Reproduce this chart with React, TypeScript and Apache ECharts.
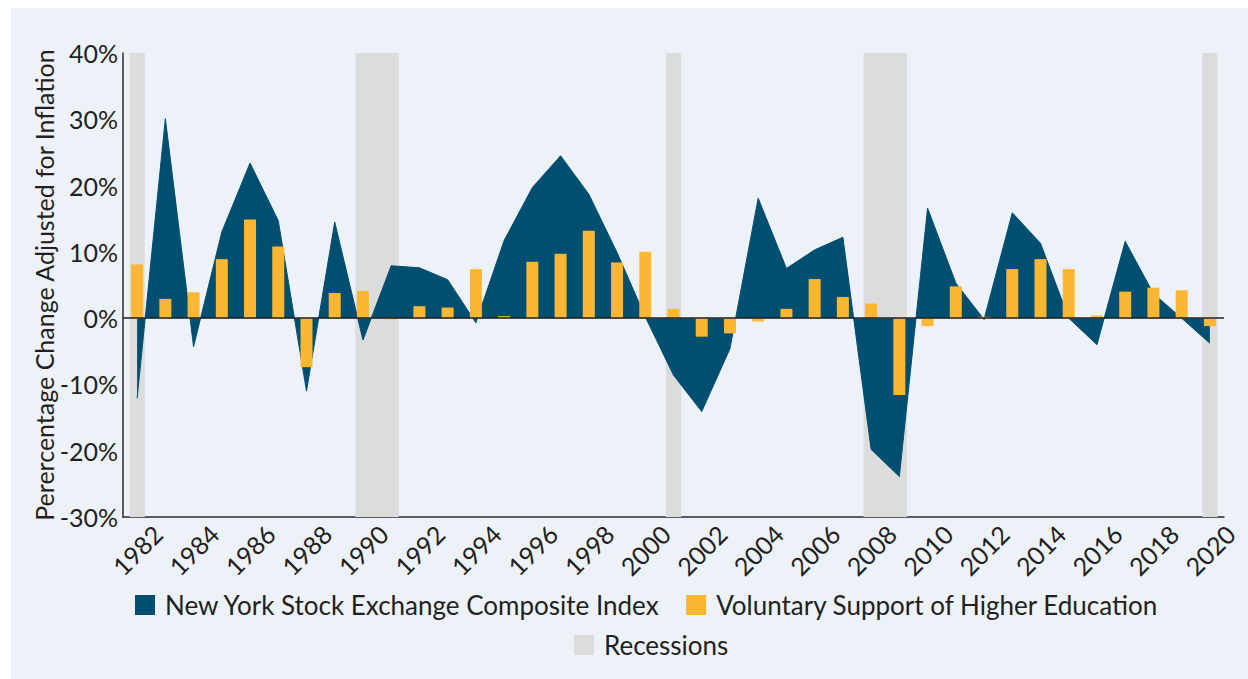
import React, { useEffect, useRef } from "react";
import * as echarts from "echarts";

const years: string[] = [
  "1982","1983","1984","1985","1986","1987","1988","1989","1990","1991",
  "1992","1993","1994","1995","1996","1997","1998","1999","2000","2001",
  "2002","2003","2004","2005","2006","2007","2008","2009","2010","2011",
  "2012","2013","2014","2015","2016","2017","2018","2019","2020",
];

const nyseComposite: number[] = [
  -12.1, 30.1, -4.3, 13.0, 23.4, 14.7, -11.0, 14.5, -3.3, 7.9,
  7.6, 5.8, -0.7, 11.7, 19.7, 24.5, 18.7, 9.9, 0.2, -8.6,
  -14.1, -4.6, 18.1, 7.5, 10.3, 12.2, -19.8, -23.9, 16.6, 5.3,
  -0.2, 15.9, 11.3, 0.0, -4.0, 11.6, 3.7, 0.0, -3.8,
];

const voluntarySupport: number[] = [
  8.1, 2.9, 3.9, 8.9, 14.9, 10.8, -7.4, 3.8, 4.1, -0.2,
  1.8, 1.6, 7.4, 0.3, 8.5, 9.7, 13.2, 8.4, 10.0, 1.4,
  -2.8, -2.3, -0.5, 1.4, 5.9, 3.2, 2.2, -11.6, -1.2, 4.8,
  0.2, 7.4, 8.9, 7.4, 0.4, 4.0, 4.6, 4.2, -1.2,
];

const recessionStart: string[] = ["1982", "1990", "2001", "2008", "2020"];
const recessionEnd: string[] = ["1982", "1991", "2001", "2009", "2020"];

const Y_MIN = -30;
const Y_MAX = 40;

const NAVY = "#004f70";
const GOLD = "#fbb632";
const GREY = "#dcdcdd";
const TEXT = "#231f20";
const FONT = "Lato";

export default function App() {
  const ref = useRef<HTMLDivElement>(null);

  useEffect(() => {
    if (!ref.current) return;
    const chart = echarts.init(ref.current, undefined, { renderer: "svg" });

    const recessionData = recessionStart.map((s, i) => [
      years.indexOf(s),
      years.indexOf(recessionEnd[i]),
    ]);

    const legendText = {
      fontFamily: FONT,
      fontSize: 26,
      color: TEXT,
      padding: [0, 0, 0, 5],
    };

    chart.setOption({
      animation: false,
      backgroundColor: "transparent",
      textStyle: { fontFamily: FONT, color: TEXT },
      grid: { left: 112, right: 24, top: 45, bottom: 162, containLabel: false },
      legend: [
        {
          left: 124,
          top: 584,
          padding: 0,
          itemWidth: 20,
          itemHeight: 20,
          itemGap: 26,
          icon: "rect",
          textStyle: legendText,
          data: [
            { name: "New York Stock Exchange Composite Index", icon: "rect", itemStyle: { color: NAVY } },
            { name: "Voluntary Support of Higher Education", icon: "rect", itemStyle: { color: GOLD } },
          ],
        },
        {
          left: 563,
          top: 624,
          padding: 0,
          itemWidth: 20,
          itemHeight: 20,
          icon: "rect",
          textStyle: legendText,
          data: [{ name: "Recessions", icon: "rect", itemStyle: { color: GREY } }],
        },
      ],
      xAxis: {
        type: "category",
        data: years,
        boundaryGap: true,
        axisLine: { show: true, onZero: false, lineStyle: { color: "#2b2b2b", width: 1.5 } },
        axisTick: { show: false },
        axisLabel: {
          interval: 1,
          rotate: 45,
          align: "center",
          verticalAlign: "middle",
          margin: 33,
          fontSize: 25,
          fontFamily: FONT,
          color: TEXT,
        },
        splitLine: { show: false },
      },
      yAxis: {
        type: "value",
        min: Y_MIN,
        max: Y_MAX,
        interval: 10,
        name: "Perercentage Change Adjusted for Inflation",
        nameLocation: "middle",
        nameGap: 67,
        nameMoveOverlap: false,
        nameTextStyle: { fontSize: 25, fontFamily: FONT, color: TEXT },
        axisLine: { show: true, lineStyle: { color: "#2b2b2b", width: 1.5 } },
        axisTick: { show: false },
        axisLabel: {
          formatter: "{value}%",
          fontSize: 25,
          fontFamily: FONT,
          color: TEXT,
          margin: 5,
        },
        splitLine: { show: false },
      },
      series: [
        {
          name: "Recessions",
          type: "custom",
          z: 1,
          silent: true,
          itemStyle: { color: GREY },
          encode: { x: [0, 1] },
          data: recessionData,
          renderItem: (params: any, api: any) => {
            const s = api.value(0);
            const e = api.value(1);
            const p1 = api.coord([s, Y_MAX]);
            const p2 = api.coord([e, Y_MIN]);
            const bw = api.size([1, 0])[0];
            const pad = bw * 0.27;
            return {
              type: "rect",
              shape: {
                x: p1[0] - pad,
                y: p1[1],
                width: p2[0] - p1[0] + 2 * pad,
                height: p2[1] - p1[1],
              },
              style: { fill: GREY },
            };
          },
        },
        {
          name: "New York Stock Exchange Composite Index",
          type: "line",
          z: 2,
          data: nyseComposite,
          showSymbol: false,
          symbol: "none",
          itemStyle: { color: NAVY },
          lineStyle: { color: NAVY, width: 1 },
          areaStyle: { color: NAVY, opacity: 1 },
        },
        {
          name: "Voluntary Support of Higher Education",
          type: "bar",
          z: 3,
          barWidth: 12,
          data: voluntarySupport,
          itemStyle: { color: GOLD },
          markLine: {
            silent: true,
            symbol: ["none", "none"],
            label: { show: false },
            lineStyle: { color: "#222", width: 1.5, type: "solid" },
            data: [{ yAxis: 0 }],
          },
        },
      ],
    });

    return () => chart.dispose();
  }, []);

  return (
    <div
      style={{
        position: "fixed",
        left: 11,
        top: 8,
        width: 1237,
        height: 671,
        background: "#edf2f9",
      }}
    >
      <div ref={ref} style={{ width: 1237, height: 671 }} />
    </div>
  );
}
